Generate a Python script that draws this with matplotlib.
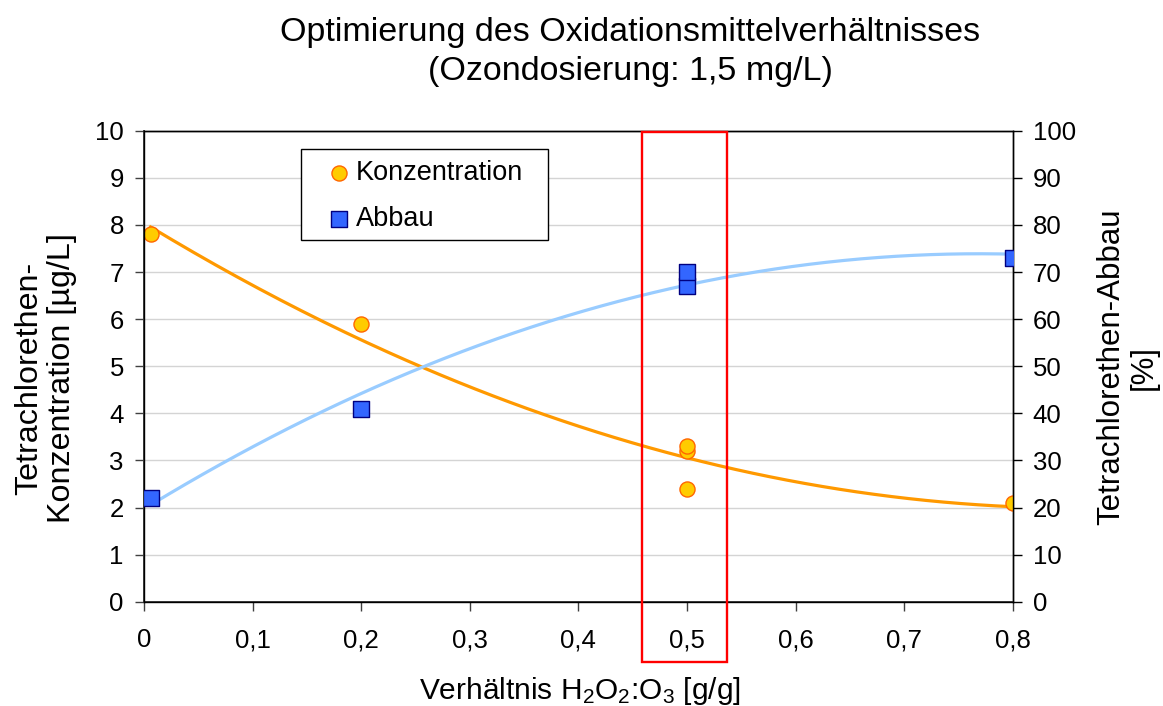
import numpy as np
import matplotlib
matplotlib.use("Agg")
import matplotlib.pyplot as plt
from matplotlib.patches import Rectangle

plt.rcParams['font.family'] = ['Liberation Sans', 'DejaVu Sans']
plt.rcParams['mathtext.fontset'] = 'custom'
plt.rcParams['mathtext.rm'] = 'Liberation Sans'
plt.rcParams['mathtext.it'] = 'Liberation Sans'

# Data
x_konz = [0.006, 0.2, 0.5, 0.5, 0.5, 0.8]
y_konz = [7.8, 5.9, 3.2, 3.3, 2.4, 2.1]
x_abbau = [0.006, 0.2, 0.5, 0.5, 0.8]
y_abbau = [22, 41, 67, 70, 73]
x_ticks = [0, 0.1, 0.2, 0.3, 0.4, 0.5, 0.6, 0.7, 0.8]
x_ticklabels = ['0', '0,1', '0,2', '0,3', '0,4', '0,5', '0,6', '0,7', '0,8']

W, H = 1163, 706
fig = plt.figure(figsize=(W / 100, H / 100), dpi=100)
L, R, B, T = 144, 1012.7, 601.7, 130.7
ax = fig.add_axes([L / W, 1 - B / H, (R - L) / W, (B - T) / H])
ax2 = ax.twinx()

# trendlines (2nd order polynomial fits to the data)
xs = np.linspace(min(x_konz), max(x_konz), 200)
pk = np.polyfit(x_konz, y_konz, 2)
pa = np.polyfit(x_abbau, y_abbau, 2)
ax.plot(xs, np.polyval(pk, xs), color='#FF9900', lw=2.3, zorder=3)
ax2.plot(xs, np.polyval(pa, xs), color='#99CCFF', lw=2.3, zorder=3)

sc1 = ax.scatter(x_konz, y_konz, s=118, marker='o', facecolor='#FFCC00',
                 edgecolor='#FF6600', linewidth=1.0, zorder=4, label='Konzentration')
sc2 = ax2.scatter(x_abbau, y_abbau, s=118, marker='s', facecolor='#3366FF',
                  edgecolor='#000080', linewidth=1.0, zorder=4, label='Abbau')

ax.set_xlim(0, 0.8)
ax.set_ylim(0, 10)
ax2.set_ylim(0, 100)
ax.set_xticks(x_ticks)
ax.set_xticklabels(x_ticklabels)
ax.set_yticks(range(0, 11))
ax2.set_yticks(range(0, 101, 10))
ax.grid(axis='y', color='#D4D4D4', lw=1.0)
ax.set_axisbelow(True)

for a in (ax, ax2):
    a.tick_params(labelsize=18.5, length=6.5, width=1.0, direction='out', pad=8)
    for s in a.spines.values():
        s.set_linewidth(1.0)
for s in ('left', 'bottom'):
    ax.spines[s].set_color('#404040')
    ax.spines[s].set_linewidth(1.4)
ax.tick_params(axis='x', pad=12.5)
ax.tick_params(axis='both', color='#404040')

# axis labels
fig.text(45.5 / W, 1 - 378 / H, 'Tetrachlorethen-\nKonzentration [µg/L]',
         rotation=90, ha='center', va='center', fontsize=23.2, linespacing=1.1)
fig.text(1127.5 / W, 1 - 367 / H, 'Tetrachlorethen-Abbau\n[%]',
         rotation=90, ha='center', va='center', fontsize=22.5, linespacing=1.1)
fig.text(579.5 / W, 1 - 699 / H, 'Verhältnis H$_2$O$_2$:O$_3$ [g/g]',
         ha='center', va='baseline', fontsize=21.5)

# title
fig.text(630 / W, 1 - 41 / H, 'Optimierung des Oxidationsmittelverhältnisses',
         ha='center', va='baseline', fontsize=24.5)
fig.text(630 / W, 1 - 80 / H, '(Ozondosierung: 1,5 mg/L)',
         ha='center', va='baseline', fontsize=24.5)

# legend
frame = Rectangle((301 / W, 1 - 240 / H), (548 - 301) / W, (240 - 149) / H,
                  transform=fig.transFigure, fill=True, facecolor='white',
                  edgecolor='black', lw=1.0, zorder=6, clip_on=False)
ax2.add_patch(frame)
leg = ax2.legend([sc1, sc2], ['Konzentration', 'Abbau'], loc='upper left',
                 bbox_to_anchor=(319 / W, 1 - 160 / H), bbox_transform=fig.transFigure,
                 fontsize=19.5, frameon=False, borderpad=0.0, borderaxespad=0.0,
                 handlelength=1.5, handletextpad=-0.15, labelspacing=0.73,
                 scatterpoints=1)
leg.set_zorder(7)

# red highlight box
rect = Rectangle((642 / W, 1 - 662 / H), (727 - 642) / W, (662 - 131.7) / H,
                 transform=fig.transFigure, fill=False, edgecolor='#FF0000',
                 lw=1.7, zorder=10)
fig.patches.append(rect)

fig.savefig('out.png', dpi=100)
